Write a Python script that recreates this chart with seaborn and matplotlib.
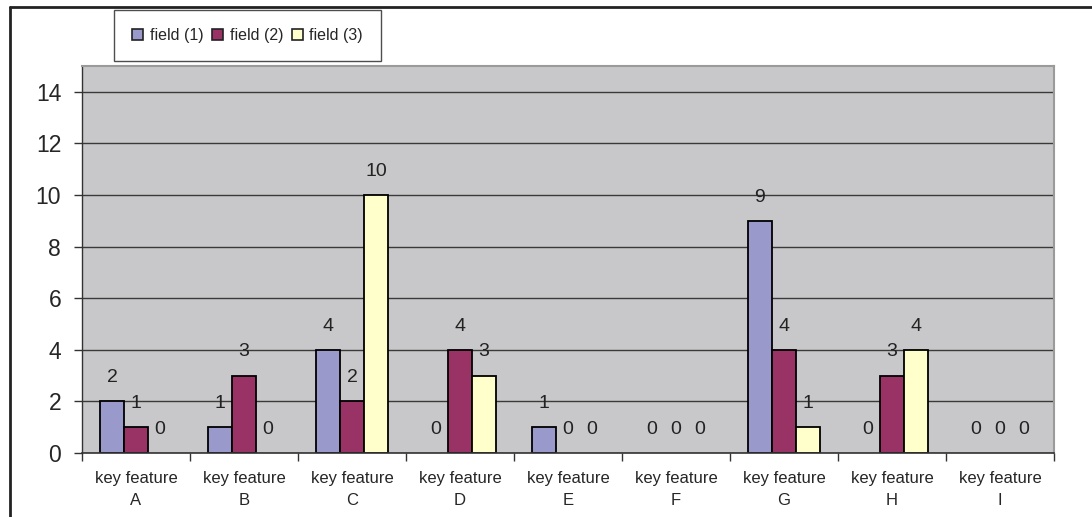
import matplotlib
matplotlib.use("Agg")
import matplotlib.pyplot as plt
import matplotlib.lines as mlines
import matplotlib.patches as mpatches
import seaborn as sns
import pandas as pd
import numpy as np

# data
categories = ["key feature\nA", "key feature\nB", "key feature\nC", "key feature\nD",
              "key feature\nE", "key feature\nF", "key feature\nG", "key feature\nH",
              "key feature\nI"]
field_1 = [2, 1, 4, 0, 1, 0, 9, 0, 0]
field_2 = [1, 3, 2, 4, 0, 0, 4, 3, 0]
field_3 = [0, 0, 10, 3, 0, 0, 1, 4, 0]
series_names = ["field (1)", "field (2)", "field (3)"]
colors = ["#9999CC", "#993366", "#FFFFCC"]

df = pd.DataFrame({
    "category": categories * 3,
    "value": field_1 + field_2 + field_3,
    "field": [s for s in series_names for _ in categories],
})

sns.set_style("white")
plt.rcParams["font.family"] = ["Liberation Sans", "DejaVu Sans"]

fig = plt.figure(figsize=(10.92, 5.17), dpi=100)
ax = fig.add_axes([0.0751, 0.1238, 0.8901, 0.7485])

sns.barplot(data=df, x="category", y="value", hue="field", palette=colors,
            width=0.667, edgecolor="black", linewidth=1.3, ax=ax, legend=False,
            saturation=1)

# zero-height bars show nothing in the original
for p in ax.patches:
    if p.get_height() == 0:
        p.set_linewidth(0)

ax.set_facecolor("#C8C8CA")
ax.set_ylim(0, 15)
ax.set_xlim(-0.5, len(categories) - 0.5)
ax.set_yticks(range(0, 15, 2))
ax.yaxis.grid(True, color="#3a3a3a", linewidth=1)
ax.set_axisbelow(True)
ax.set_xlabel("")
ax.set_ylabel("")

ax.tick_params(axis="y", labelsize=16.5, length=6, width=1, color="#333333",
               direction="out", left=True, pad=9)
ax.set_xticks(range(len(categories)))
ax.set_xticklabels(categories, linespacing=1.6)
ax.tick_params(axis="x", which="major", labelsize=12, length=0, pad=13)
ax.set_xticks(np.arange(-0.5, len(categories), 1), minor=True)
ax.tick_params(axis="x", which="minor", length=6, width=1, color="#333333",
               direction="out", bottom=True)

for side in ["top", "right"]:
    ax.spines[side].set_color("#9a9a9a")
    ax.spines[side].set_linewidth(1.5)
ax.spines["left"].set_color("#333333")
ax.spines["bottom"].set_color("#333333")
ax.spines["left"].set_linewidth(1)
ax.spines["bottom"].set_linewidth(1.2)

for cont in ax.containers:
    ax.bar_label(cont, fmt="%d", padding=11, fontsize=14, color="#222222")

handles = [mpatches.Patch(facecolor=c, edgecolor="#222222", linewidth=1.2)
           for c in colors]
leg = fig.legend(handles, series_names, loc="center",
                 bbox_to_anchor=(247.5 / 1092, 1 - 35.5 / 517), ncol=3,
                 fontsize=11.5, frameon=True, fancybox=False, handlelength=0.7,
                 handleheight=0.7, handletextpad=0.4, columnspacing=0.55,
                 borderpad=1.15, borderaxespad=0)
leg.get_frame().set_edgecolor("#222222")
leg.get_frame().set_linewidth(1)

# outer chart frame (only top and left edges visible in the crop)
fig.add_artist(mlines.Line2D([10 / 1092, 1.0], [1 - 7 / 517, 1 - 7 / 517],
                             color="#222222", linewidth=2, transform=fig.transFigure))
fig.add_artist(mlines.Line2D([10 / 1092, 10 / 1092], [0, 1 - 7 / 517],
                             color="#222222", linewidth=2, transform=fig.transFigure))

fig.savefig("out.png", dpi=100)
